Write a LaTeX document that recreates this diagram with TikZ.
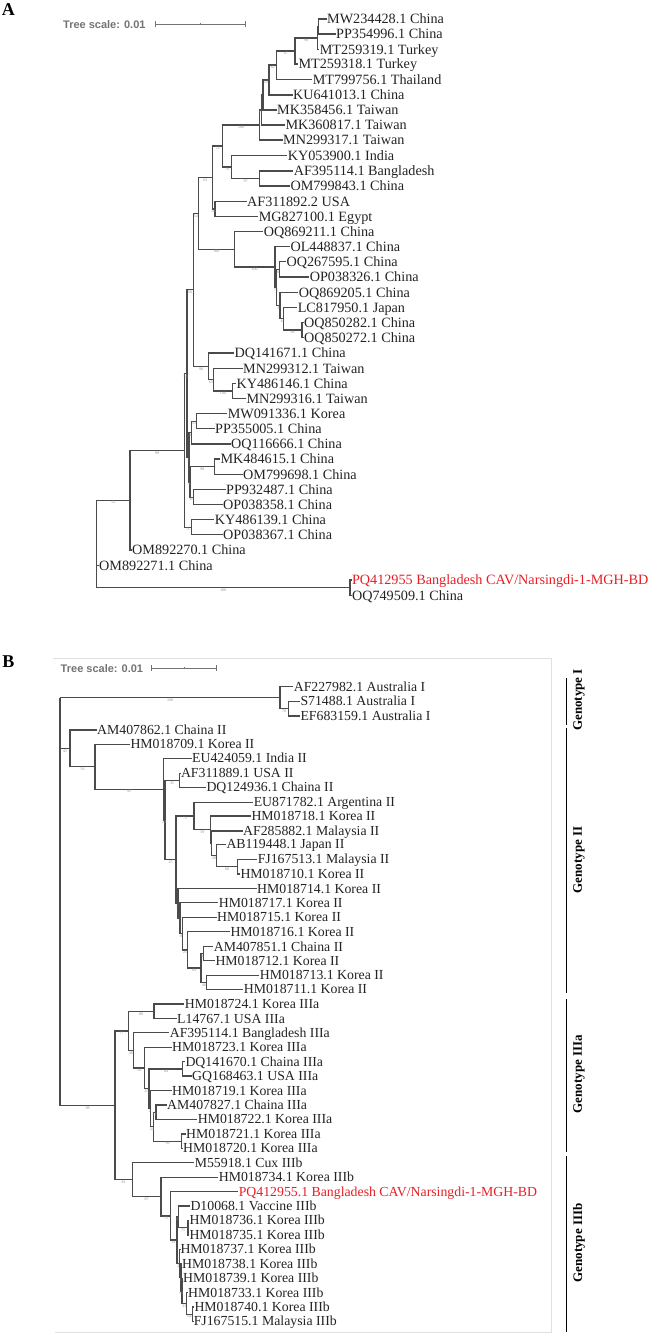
\documentclass[tikz,border=0pt]{standalone}
\usepackage{fontspec}
\setmainfont{Liberation Serif}
\newfontfamily\barsans{Liberation Sans}
\definecolor{limbgray}{RGB}{75,75,75}
\definecolor{tiptext}{RGB}{35,35,35}
\definecolor{hitred}{RGB}{232,30,36}
\newcommand\tipfontA{\fontsize{14.2}{16}\selectfont}
\newcommand\tipfontB{\fontsize{13.8}{16}\selectfont}
\newcommand\bsfont{\fontsize{4}{4}\selectfont}

\tikzset{
  limb/.style={draw=limbgray,line width=1.35pt},
  tipA/.style={anchor=west,inner xsep=0.3pt,inner ysep=0pt,text height=9.4pt,text depth=0pt,text=tiptext,font=\tipfontA},
  tipB/.style={tipA,text height=9.1pt,font=\tipfontB},
  hit/.style={text=hitred},
  bs/.style={pos=0.75,below=0.4pt,inner sep=0pt,font=\bsfont,text=black!45},
  panel/.style={inner sep=0pt,text height=12pt,text depth=0pt,font=\fontsize{18}{18}\selectfont\bfseries},
  scaletext/.style={anchor=east,inner sep=0pt,text height=8pt,text depth=0pt,text=black!55,font=\barsans\bfseries\fontsize{11}{11}\selectfont},
  scalebar/.style={draw=black!55,line width=0.9pt},
  geno/.style={rotate=90,inner sep=0pt,font=\fontsize{13}{13}\selectfont\bfseries},
  gbar/.style={draw=black,line width=1.5pt},
  frame/.style={draw=black!12,line width=0.8pt}
}

\begin{document}
\begin{tikzpicture}[x=1pt,y=-1pt]
  \useasboundingbox (0,0) rectangle (652,1333);

  % ---------------- panel A ----------------
  \node[panel] (pA) at (8.3,10) {A};
  \node[scaletext] (sA) at (145.7,24) {Tree scale: 0.01};
  \draw[scalebar] (155.7,24) -- (245,24);
  \draw[scalebar] (155.7,21) -- (155.7,27) (245,21) -- (245,27) (200,23) -- (200,25);

  % leaves A
  \node[tipA] (aMW234428) at (326.7,19) {MW234428.1 China};
  \node[tipA] (aPP354996) at (335.7,34) {PP354996.1 China};
  \node[tipA] (aMT259319) at (319.3,49.3) {MT259319.1 Turkey};
  \node[tipA] (aMT259318) at (298,64) {MT259318.1 Turkey};
  \node[tipA] (aMT799756) at (312.3,79.3) {MT799756.1 Thailand};
  \node[tipA] (aKU641013) at (292.7,95) {KU641013.1 China};
  \node[tipA] (aMK358456) at (276.7,110) {MK358456.1 Taiwan};
  \node[tipA] (aMK360817) at (285,125) {MK360817.1 Taiwan};
  \node[tipA] (aMN299317) at (282.7,140) {MN299317.1 Taiwan};
  \node[tipA] (aKY053900) at (287.3,155.3) {KY053900.1 India};
  \node[tipA] (aAF395114) at (293.3,171) {AF395114.1 Bangladesh};
  \node[tipA] (aOM799843) at (290,186) {OM799843.1 China};
  \node[tipA] (aAF311892) at (246.7,201.3) {AF311892.2 USA};
  \node[tipA] (aMG827100) at (258.3,216.7) {MG827100.1 Egypt};
  \node[tipA] (aOQ869211) at (263.3,231.3) {OQ869211.1 China};
  \node[tipA] (aOL448837) at (290,246.7) {OL448837.1 China};
  \node[tipA] (aOQ267595) at (286,261.7) {OQ267595.1 China};
  \node[tipA] (aOP038326) at (309.3,277) {OP038326.1 China};
  \node[tipA] (aOQ869205) at (298.3,292.3) {OQ869205.1 China};
  \node[tipA] (aLC817950) at (297.3,307.3) {LC817950.1 Japan};
  \node[tipA] (aOQ850282) at (303.5,322.7) {OQ850282.1 China};
  \node[tipA] (aOQ850272) at (303.5,337.3) {OQ850272.1 China};
  \node[tipA] (aDQ141671) at (234,353) {DQ141671.1 China};
  \node[tipA] (aMN299312) at (242.7,368.3) {MN299312.1 Taiwan};
  \node[tipA] (aKY486146) at (236,383.3) {KY486146.1 China};
  \node[tipA] (aMN299316) at (246,398.7) {MN299316.1 Taiwan};
  \node[tipA] (aMW091336) at (227.3,413.7) {MW091336.1 Korea};
  \node[tipA] (aPP355005) at (214.7,428.7) {PP355005.1 China};
  \node[tipA] (aOQ116666) at (230.7,444) {OQ116666.1 China};
  \node[tipA] (aMK484615) at (220,459) {MK484615.1 China};
  \node[tipA] (aOM799698) at (242.7,474.3) {OM799698.1 China};
  \node[tipA] (aPP932487) at (225.7,489.7) {PP932487.1 China};
  \node[tipA] (aOP038358) at (222.7,504.7) {OP038358.1 China};
  \node[tipA] (aKY486139) at (214.3,519.7) {KY486139.1 China};
  \node[tipA] (aOP038367) at (222.7,534.7) {OP038367.1 China};
  \node[tipA] (aOM892270) at (131.7,550) {OM892270.1 China};
  \node[tipA] (aOM892271) at (98.7,565.3) {OM892271.1 China};
  \node[tipA,hit] (aPQ412955) at (351.5,580) {PQ412955 Bangladesh CAV/Narsingdi-1-MGH-BD};
  \node[tipA] (aOQ749509) at (351.5,595.3) {OQ749509.1 China};

  % inner nodes A
  \coordinate (aT2) at (318.5,26.5);
  \coordinate (aT) at (317.5,37.9);
  \coordinate (a98) at (295,51);
  \coordinate (a67) at (276.7,65.1);
  \coordinate (aA3) at (269,80);
  \coordinate (aA2a) at (263,95);
  \coordinate (aA2) at (261.7,110);
  \coordinate (aA1) at (259.3,125);
  \coordinate (a97) at (259.3,178.5);
  \coordinate (a76) at (231.7,166.9);
  \coordinate (a72) at (222.7,146);
  \coordinate (aAFMG) at (215,209);
  \coordinate (a62) at (212.3,177.5);
  \coordinate (aOQ85) at (302,330);
  \coordinate (aC6) at (283.3,318.7);
  \coordinate (aC5) at (280,305.5);
  \coordinate (aC4) at (279.3,269.4);
  \coordinate (aC3) at (276.7,287.4);
  \coordinate (aC2) at (275,267);
  \coordinate (aOQ) at (234.3,249.2);
  \coordinate (aBig) at (198.3,213.4);
  \coordinate (aKYMN) at (232.3,391);
  \coordinate (aD2) at (213.3,379.7);
  \coordinate (aDQc) at (208.3,366.3);
  \coordinate (aP) at (193.3,289.8);
  \coordinate (aMWPP) at (196.7,421.2);
  \coordinate (aS1) at (191.7,432.6);
  \coordinate (aMKOM) at (214.7,466.7);
  \coordinate (aPPOP) at (193.3,497.2);
  \coordinate (aS2) at (190,481.9);
  \coordinate (aS) at (189,457.3);
  \coordinate (aQ) at (187,373.5);
  \coordinate (aKYOP) at (191.3,527.2);
  \coordinate (aR) at (184.3,450.4);
  \coordinate (a99) at (130,500.2);
  \coordinate (aPQ) at (350,587.7);
  \coordinate (aroot) at (96.7,500.2);

  % top clade A
  \draw[limb] (aT2) |- (aMW234428.west);
  \draw[limb] (aT2) |- (aPP354996.west);
  \draw[limb] (aT) |- (aT2);
  \draw[limb] (aT) |- (aMT259319.west);
  \draw[limb] (a98) |- node[bs]{98} (aT);
  \draw[limb] (a98) |- (aMT259318.west);
  \draw[limb] (a67) |- node[bs]{67} (a98);
  \draw[limb] (a67) |- (aMT799756.west);
  \draw[limb] (aA3) |- node[bs]{62} (a67);
  \draw[limb] (aA3) |- (aKU641013.west);
  \draw[limb] (aA2a) |- node[bs]{55} (aA3);
  \draw[limb] (aA2a) |- (aMK358456.west);
  \draw[limb] (aA2) |- (aA2a);
  \draw[limb] (aA2) |- (aMK360817.west);
  \draw[limb] (aA1) |- node[bs]{6} (aA2);
  \draw[limb] (aA1) |- (aMN299317.west);
  \draw[limb] (a97) |- (aAF395114.west);
  \draw[limb] (a97) |- (aOM799843.west);
  \draw[limb] (a76) |- (aKY053900.west);
  \draw[limb] (a76) |- node[bs]{97} (a97);
  \draw[limb] (a72) |- node[bs]{100} (aA1);
  \draw[limb] (a72) |- node[bs]{76} (a76);
  \draw[limb] (aAFMG) |- (aAF311892.west);
  \draw[limb] (aAFMG) |- (aMG827100.west);
  \draw[limb] (a62) |- node[bs]{72} (a72);
  \draw[limb] (a62) |- node[bs]{94} (aAFMG);

  % OQ clade A
  \draw[limb] (aOQ85) |- (aOQ850282.west);
  \draw[limb] (aOQ85) |- (aOQ850272.west);
  \draw[limb] (aC6) |- (aLC817950.west);
  \draw[limb] (aC6) |- node[bs]{98} (aOQ85);
  \draw[limb] (aC5) |- (aOQ869205.west);
  \draw[limb] (aC5) |- node[bs]{4} (aC6);
  \draw[limb] (aC4) |- (aOQ267595.west);
  \draw[limb] (aC4) |- (aOP038326.west);
  \draw[limb] (aC3) |- node[bs]{8} (aC4);
  \draw[limb] (aC3) |- node[bs]{3} (aC5);
  \draw[limb] (aC2) |- (aOL448837.west);
  \draw[limb] (aC2) |- node[bs]{73} (aC3);
  \draw[limb] (aOQ) |- (aOQ869211.west);
  \draw[limb] (aOQ) |- node[bs]{100} (aC2);
  \draw[limb] (aBig) |- node[bs]{62} (a62);
  \draw[limb] (aBig) |- node[bs]{100} (aOQ);

  % DQ clade A
  \draw[limb] (aKYMN) |- (aKY486146.west);
  \draw[limb] (aKYMN) |- (aMN299316.west);
  \draw[limb] (aD2) |- (aMN299312.west);
  \draw[limb] (aD2) |- node[bs]{100} (aKYMN);
  \draw[limb] (aDQc) |- (aDQ141671.west);
  \draw[limb] (aDQc) |- node[bs]{63} (aD2);
  \draw[limb] (aP) |- node[bs]{54} (aBig);
  \draw[limb] (aP) |- node[bs]{98} (aDQc);

  % lower clade A
  \draw[limb] (aMWPP) |- (aMW091336.west);
  \draw[limb] (aMWPP) |- (aPP355005.west);
  \draw[limb] (aS1) |- node[bs]{51} (aMWPP);
  \draw[limb] (aS1) |- (aOQ116666.west);
  \draw[limb] (aMKOM) |- (aMK484615.west);
  \draw[limb] (aMKOM) |- (aOM799698.west);
  \draw[limb] (aPPOP) |- (aPP932487.west);
  \draw[limb] (aPPOP) |- (aOP038358.west);
  \draw[limb] (aS2) |- node[bs]{98} (aMKOM);
  \draw[limb] (aS2) |- node[bs]{45} (aPPOP);
  \draw[limb] (aS) |- node[bs]{8} (aS1);
  \draw[limb] (aS) |- node[bs]{8} (aS2);
  \draw[limb] (aQ) |- node[bs]{56} (aP);
  \draw[limb] (aQ) |- node[bs]{1} (aS);
  \draw[limb] (aKYOP) |- (aKY486139.west);
  \draw[limb] (aKYOP) |- (aOP038367.west);
  \draw[limb] (aR) |- node[bs]{54} (aQ);
  \draw[limb] (aR) |- node[bs]{71} (aKYOP);
  \draw[limb] (a99) |- node[bs]{99} (aR);
  \draw[limb] (a99) |- (aOM892270.west);
  \draw[limb] (aPQ) |- (aPQ412955.west);
  \draw[limb] (aPQ) |- (aOQ749509.west);
  \draw[limb] (aroot) |- node[bs]{52} (a99);
  \draw[limb] (aroot) |- (aOM892271.west);
  \draw[limb] (aroot) |- node[bs]{100} (aPQ);

  % ---------------- panel B ----------------
  \node[panel] (pB) at (8.3,661.7) {B};
  \draw[frame] (53.3,658.3) -- (551,658.3) -- (551,1332) -- (55,1332);
  \node[scaletext] (sB) at (143.3,668.3) {Tree scale: 0.01};
  \draw[scalebar] (151.7,668.3) -- (216.7,668.3);
  \draw[scalebar] (151.7,665.3) -- (151.7,671.3) (216.7,665.3) -- (216.7,671.3) (184.3,667.3) -- (184.3,669.3);

  % leaves B
  \node[tipB] (bAF227982) at (293.3,686.7) {AF227982.1 Australia I};
  \node[tipB] (bS71488) at (300,701.3) {S71488.1 Australia I};
  \node[tipB] (bEF683159) at (300,716) {EF683159.1 Australia I};
  \node[tipB] (bAM407862) at (96.7,730) {AM407862.1 Chaina II};
  \node[tipB] (bHM018709) at (130,744.3) {HM018709.1 Korea II};
  \node[tipB] (bEU424059) at (191.7,758.3) {EU424059.1 India II};
  \node[tipB] (bAF311889) at (180.5,773.3) {AF311889.1 USA II};
  \node[tipB] (bDQ124936) at (206,787.3) {DQ124936.1 Chaina II};
  \node[tipB] (bEU871782) at (253.3,802.3) {EU871782.1 Argentina II};
  \node[tipB] (bHM018718) at (251,816) {HM018718.1 Korea II};
  \node[tipB] (bAF285882) at (242.7,831) {AF285882.1 Malaysia II};
  \node[tipB] (bAB119448) at (226,844.3) {AB119448.1 Japan II};
  \node[tipB] (bFJ167513) at (257.3,859.3) {FJ167513.1 Malaysia II};
  \node[tipB] (bHM018710) at (240,874) {HM018710.1 Korea II};
  \node[tipB] (bHM018714) at (256.7,888.7) {HM018714.1 Korea II};
  \node[tipB] (bHM018717) at (218.3,902.7) {HM018717.1 Korea II};
  \node[tipB] (bHM018715) at (216.7,917.3) {HM018715.1 Korea II};
  \node[tipB] (bHM018716) at (230,931.7) {HM018716.1 Korea II};
  \node[tipB] (bAM407851) at (213.3,946.7) {AM407851.1 Chaina II};
  \node[tipB] (bHM018712) at (215,960.7) {HM018712.1 Korea II};
  \node[tipB] (bHM018713) at (259.3,975.3) {HM018713.1 Korea II};
  \node[tipB] (bHM018711) at (243.3,989.3) {HM018711.1 Korea II};
  \node[tipB] (bHM018724) at (184.3,1004) {HM018724.1 Korea IIIa};
  \node[tipB] (bL14767) at (176.7,1018.7) {L14767.1 USA IIIa};
  \node[tipB] (bAF395114) at (169.3,1032.7) {AF395114.1 Bangladesh IIIa};
  \node[tipB] (bHM018723) at (171.7,1047.3) {HM018723.1 Korea IIIa};
  \node[tipB] (bDQ141670) at (185,1061.7) {DQ141670.1 Chaina IIIa};
  \node[tipB] (bGQ168463) at (191.7,1076) {GQ168463.1 USA IIIa};
  \node[tipB] (bHM018719) at (171.7,1090.7) {HM018719.1 Korea IIIa};
  \node[tipB] (bAM407827) at (166.7,1105) {AM407827.1 Chaina IIIa};
  \node[tipB] (bHM018722) at (197.3,1119.3) {HM018722.1 Korea IIIa};
  \node[tipB] (bHM018721) at (185.7,1134) {HM018721.1 Korea IIIa};
  \node[tipB] (bHM018720) at (182.7,1148.3) {HM018720.1 Korea IIIa};
  \node[tipB] (bM55918) at (194.3,1162.7) {M55918.1 Cux IIIb};
  \node[tipB] (bHM018734) at (218.3,1177.3) {HM018734.1 Korea IIIb};
  \node[tipB,hit] (bPQ412955) at (238.3,1191.7) {PQ412955.1 Bangladesh CAV/Narsingdi-1-MGH-BD};
  \node[tipB] (bD10068) at (190,1206) {D10068.1 Vaccine IIIb};
  \node[tipB] (bHM018736) at (189,1220.3) {HM018736.1 Korea IIIb};
  \node[tipB] (bHM018735) at (189,1235) {HM018735.1 Korea IIIb};
  \node[tipB] (bHM018737) at (180,1249.3) {HM018737.1 Korea IIIb};
  \node[tipB] (bHM018738) at (181.7,1263.7) {HM018738.1 Korea IIIb};
  \node[tipB] (bHM018739) at (182.7,1278.3) {HM018739.1 Korea IIIb};
  \node[tipB] (bHM018733) at (187.7,1292.7) {HM018733.1 Korea IIIb};
  \node[tipB] (bHM018740) at (194,1307) {HM018740.1 Korea IIIb};
  \node[tipB] (bFJ167515) at (193.3,1321.3) {FJ167515.1 Malaysia IIIb};

  % inner nodes B
  \coordinate (bI2) at (288.3,708.7);
  \coordinate (bI) at (280,697.7);
  \coordinate (bn35) at (179.3,780.3);
  \coordinate (bn68) at (237.3,866.7);
  \coordinate (bn26) at (216.7,855.5);
  \coordinate (bn59b) at (211.7,843.3);
  \coordinate (bn59) at (210.7,829.6);
  \coordinate (bn75) at (194,816);
  \coordinate (bn46) at (206.7,982.3);
  \coordinate (bAMHM) at (203.3,953.7);
  \coordinate (bn69) at (201,968);
  \coordinate (bn2y) at (187.7,949.9);
  \coordinate (bp1) at (182.7,933.6);
  \coordinate (bp2) at (180,918.2);
  \coordinate (bp3) at (178,903.4);
  \coordinate (bn25) at (176,859.7);
  \coordinate (bn2x) at (165,820);
  \coordinate (bn95) at (163.3,789.2);
  \coordinate (bn56) at (95,766.7);
  \coordinate (bG2) at (70,748.4);
  \coordinate (bn88) at (154,1011.4);
  \coordinate (bn84) at (182.7,1068.9);
  \coordinate (bq2) at (156,1112.2);
  \coordinate (bn99) at (181.7,1141.2);
  \coordinate (bq1) at (153.3,1126.7);
  \coordinate (bq0) at (150.5,1108.7);
  \coordinate (bn2z) at (149,1088.8);
  \coordinate (bn54) at (144.3,1068.1);
  \coordinate (bn48) at (133.3,1050.4);
  \coordinate (bn77) at (128.3,1030.9);
  \coordinate (bn7536) at (188,1227.7);
  \coordinate (bz1) at (178.3,1216.8);
  \coordinate (bz7) at (192.5,1314.2);
  \coordinate (bz6) at (186.5,1303.4);
  \coordinate (bz5) at (182,1290.9);
  \coordinate (bz4) at (181,1277.3);
  \coordinate (bz3) at (179.5,1263.3);
  \coordinate (bn61) at (177,1240.1);
  \coordinate (bn75b) at (170.7,1215.9);
  \coordinate (bn87) at (161,1196.6);
  \coordinate (bn81) at (132.3,1179.7);
  \coordinate (bG3) at (115,1105.3);
  \coordinate (broot) at (60,697.7);

  % genotype I
  \draw[limb] (bI2) |- (bS71488.west);
  \draw[limb] (bI2) |- (bEF683159.west);
  \draw[limb] (bI) |- (bAF227982.west);
  \draw[limb] (bI) |- node[bs]{78} (bI2);

  % genotype II
  \draw[limb] (bn68) |- (bFJ167513.west);
  \draw[limb] (bn68) |- (bHM018710.west);
  \draw[limb] (bn26) |- (bAB119448.west);
  \draw[limb] (bn26) |- node[bs]{68} (bn68);
  \draw[limb] (bn59b) |- (bAF285882.west);
  \draw[limb] (bn59b) |- node[bs]{28} (bn26);
  \draw[limb] (bn59) |- (bHM018718.west);
  \draw[limb] (bn59) |- node[bs]{3} (bn59b);
  \draw[limb] (bn75) |- (bEU871782.west);
  \draw[limb] (bn75) |- node[bs]{59} (bn59);
  \draw[limb] (bn46) |- (bHM018713.west);
  \draw[limb] (bn46) |- (bHM018711.west);
  \draw[limb] (bAMHM) |- (bAM407851.west);
  \draw[limb] (bAMHM) |- (bHM018712.west);
  \draw[limb] (bn69) |- node[bs]{8} (bAMHM);
  \draw[limb] (bn69) |- node[bs]{46} (bn46);
  \draw[limb] (bn2y) |- (bHM018716.west);
  \draw[limb] (bn2y) |- node[bs]{69} (bn69);
  \draw[limb] (bp1) |- (bHM018715.west);
  \draw[limb] (bp1) |- node[bs]{25} (bn2y);
  \draw[limb] (bp2) |- (bHM018717.west);
  \draw[limb] (bp2) |- node[bs]{8} (bp1);
  \draw[limb] (bp3) |- (bHM018714.west);
  \draw[limb] (bp3) |- node[bs]{1} (bp2);
  \draw[limb] (bn25) |- node[bs]{75} (bn75);
  \draw[limb] (bn25) |- node[bs]{1} (bp3);
  \draw[limb] (bn35) |- (bAF311889.west);
  \draw[limb] (bn35) |- (bDQ124936.west);
  \draw[limb] (bn2x) |- node[bs]{35} (bn35);
  \draw[limb] (bn2x) |- node[bs]{25} (bn25);
  \draw[limb] (bn95) |- (bEU424059.west);
  \draw[limb] (bn95) |- node[bs]{24} (bn2x);
  \draw[limb] (bn56) |- (bHM018709.west);
  \draw[limb] (bn56) |- node[bs]{95} (bn95);
  \draw[limb] (bG2) |- (bAM407862.west);
  \draw[limb] (bG2) |- node[bs]{56} (bn56);

  % genotype IIIa
  \draw[limb] (bn88) |- (bHM018724.west);
  \draw[limb] (bn88) |- (bL14767.west);
  \draw[limb] (bn84) |- (bDQ141670.west);
  \draw[limb] (bn84) |- (bGQ168463.west);
  \draw[limb] (bq2) |- (bAM407827.west);
  \draw[limb] (bq2) |- (bHM018722.west);
  \draw[limb] (bn99) |- (bHM018721.west);
  \draw[limb] (bn99) |- (bHM018720.west);
  \draw[limb] (bq1) |- node[bs]{24} (bq2);
  \draw[limb] (bq1) |- node[bs]{99} (bn99);
  \draw[limb] (bq0) |- (bHM018719.west);
  \draw[limb] (bq0) |- node[bs]{24} (bq1);
  \draw[limb] (bn2z) |- node[bs]{84} (bn84);
  \draw[limb] (bn2z) |- node[bs]{2} (bq0);
  \draw[limb] (bn54) |- (bHM018723.west);
  \draw[limb] (bn54) |- node[bs]{25} (bn2z);
  \draw[limb] (bn48) |- (bAF395114.west);
  \draw[limb] (bn48) |- node[bs]{54} (bn54);
  \draw[limb] (bn77) |- node[bs]{88} (bn88);
  \draw[limb] (bn77) |- node[bs]{48} (bn48);

  % genotype IIIb
  \draw[limb] (bn7536) |- (bHM018736.west);
  \draw[limb] (bn7536) |- (bHM018735.west);
  \draw[limb] (bz1) |- (bD10068.west);
  \draw[limb] (bz1) |- node[bs]{75} (bn7536);
  \draw[limb] (bz7) |- (bHM018740.west);
  \draw[limb] (bz7) |- (bFJ167515.west);
  \draw[limb] (bz6) |- (bHM018733.west);
  \draw[limb] (bz6) |- node[bs]{64} (bz7);
  \draw[limb] (bz5) |- (bHM018739.west);
  \draw[limb] (bz5) |- node[bs]{33} (bz6);
  \draw[limb] (bz4) |- (bHM018738.west);
  \draw[limb] (bz4) |- node[bs]{61} (bz5);
  \draw[limb] (bz3) |- (bHM018737.west);
  \draw[limb] (bz3) |- node[bs]{1} (bz4);
  \draw[limb] (bn61) |- node[bs]{8} (bz1);
  \draw[limb] (bn61) |- node[bs]{2} (bz3);
  \draw[limb] (bn75b) |- (bPQ412955.west);
  \draw[limb] (bn75b) |- node[bs]{61} (bn61);
  \draw[limb] (bn87) |- (bHM018734.west);
  \draw[limb] (bn87) |- node[bs]{75} (bn75b);
  \draw[limb] (bn81) |- (bM55918.west);
  \draw[limb] (bn81) |- node[bs]{87} (bn87);
  \draw[limb] (bG3) |- node[bs]{77} (bn77);
  \draw[limb] (bG3) |- node[bs]{81} (bn81);

  % root B
  \draw[limb] (broot) |- node[bs]{100} (bI);
  \draw[limb] (broot) |- node[bs]{41} (bG2);
  \draw[limb] (broot) |- node[bs]{98} (bG3);

  % genotype bars
  \draw[gbar] (566.7,678.3) -- (566.7,725);
  \draw[gbar] (566.7,728.3) -- (566.7,993.3);
  \draw[gbar] (566.7,999.3) -- (566.7,1151.7);
  \draw[gbar] (566.7,1156) -- (566.7,1331.7);
  \node[geno] (gI) at (579,700) {Genotype I};
  \node[geno] (gII) at (579,860) {Genotype II};
  \node[geno] (gIIIa) at (579,1074) {Genotype IIIa};
  \node[geno] (gIIIb) at (579,1243) {Genotype IIIb};
\end{tikzpicture}
\end{document}
